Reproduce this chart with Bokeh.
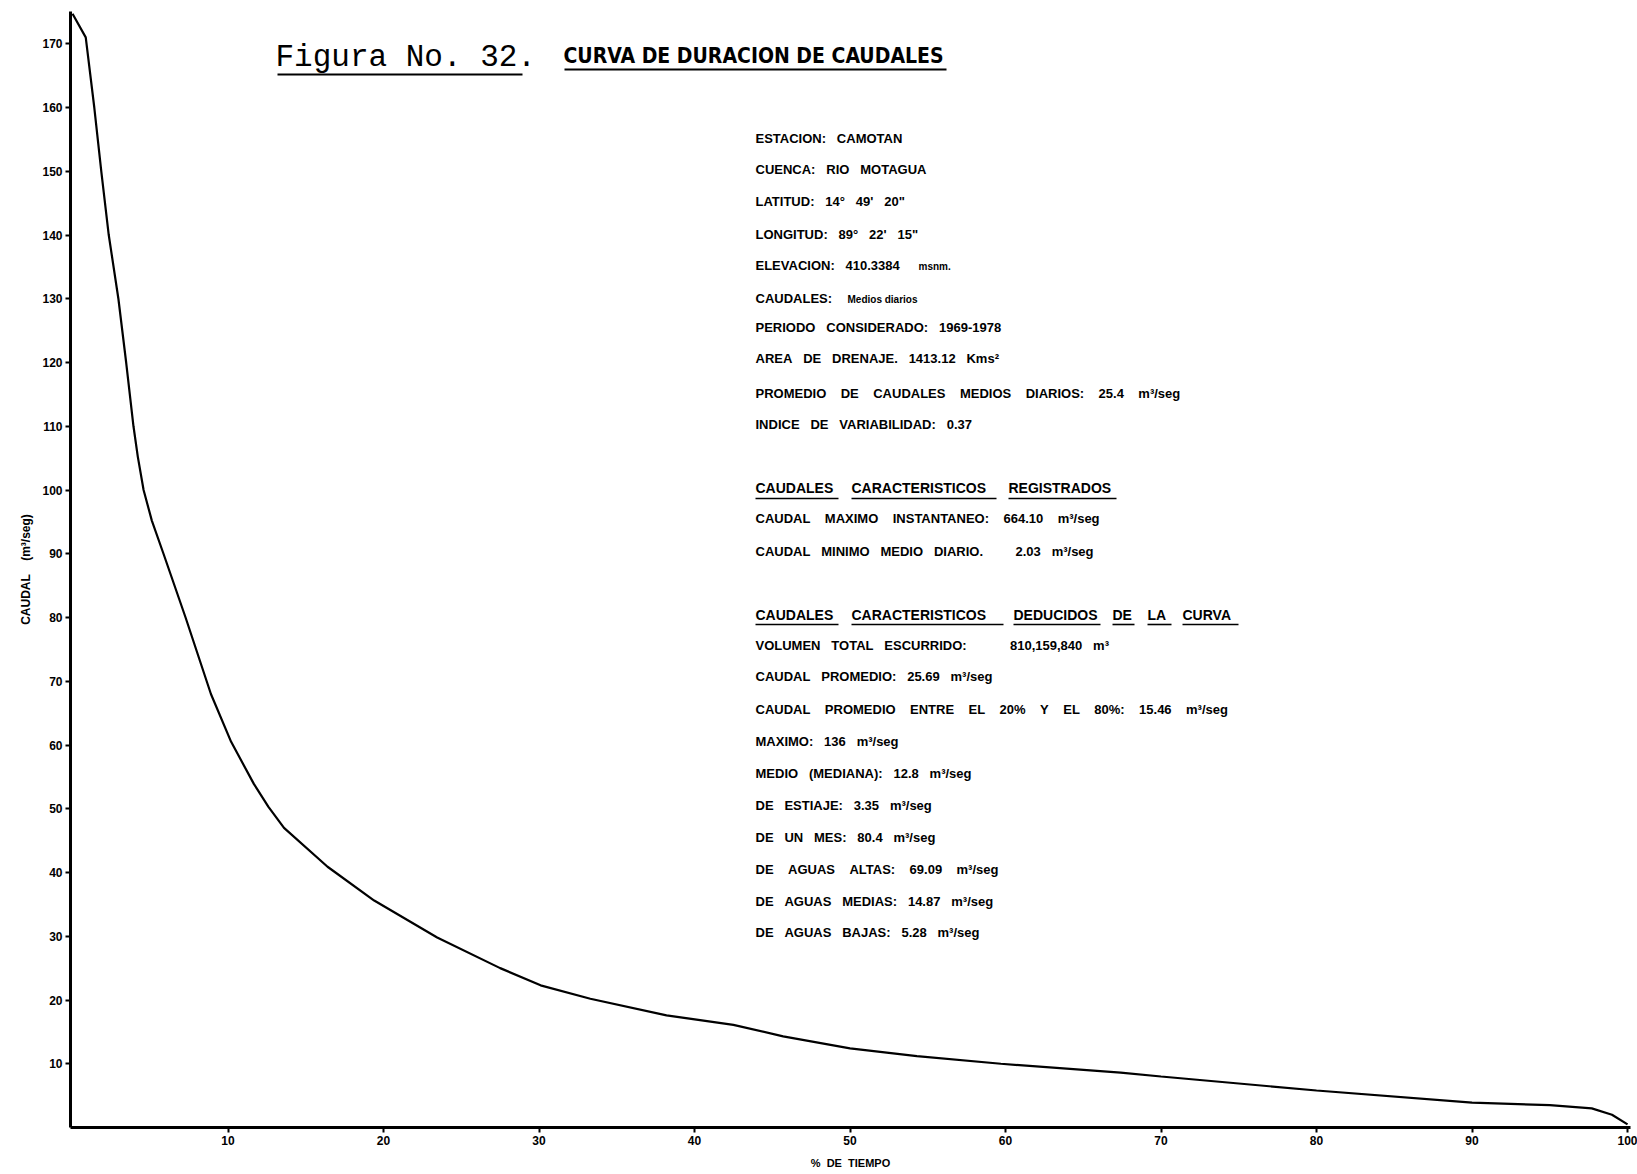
from bokeh.plotting import figure
from bokeh.models import Range1d, FixedTicker, Label
from bokeh.embed import file_html
from bokeh.resources import INLINE

# Curva de duración de caudales, estación Camotán
# porcentaje de tiempo en que el caudal es igualado o excedido
pct_tiempo = [0.0, 0.85, 1.4, 1.85, 2.33, 2.95, 3.45, 3.92, 4.2, 4.57, 5.1,
              5.85, 7.27, 8.9, 10.2, 11.66, 12.6, 13.6, 16.4, 19.4, 23.45, 27.5,
              30.1, 33.3, 38.2, 42.5, 45.7, 50.0, 54.3, 59.7, 67.4, 70.0, 80.0,
              90.0, 95.0, 97.7, 99.0, 100.0]
# caudal medio diario (m3/seg)
caudal = [174.7, 171.0, 160.0, 150.0, 140.0, 130.0, 120.0, 110.0, 105.2, 100.0,
          95.2, 90.0, 80.0, 68.0, 60.5, 53.9, 50.3, 47.0, 40.9, 35.6, 29.8, 25.0,
          22.3, 20.2, 17.6, 16.1, 14.3, 12.4, 11.2, 10.0, 8.6, 8.0, 5.8, 3.9,
          3.5, 3.0, 2.0, 0.5]

x_ticks = [10, 20, 30, 40, 50, 60, 70, 80, 90, 100]
y_ticks = [10, 20, 30, 40, 50, 60, 70, 80, 90, 100, 110, 120, 130, 140, 150,
           160, 170]

titulo_num = "Figura No. 32."
titulo_txt = "CURVA DE DURACION DE CAUDALES"

# (texto, ancho de separación entre palabras)
datos_estacion = [
    ("ESTACION: CAMOTAN", 3),
    ("CUENCA: RIO MOTAGUA", 3),
    ("LATITUD: 14° 49' 20\"", 3),
    ("LONGITUD: 89° 22' 15\"", 3),
    ("ELEVACION: 410.3384", 3),
    ("CAUDALES:", 3),
    ("PERIODO CONSIDERADO: 1969-1978", 3),
    ("AREA DE DRENAJE. 1413.12 Kms²", 3),
    ("PROMEDIO DE CAUDALES MEDIOS DIARIOS: 25.4 m³/seg", 4),
    ("INDICE DE VARIABILIDAD: 0.37", 3),
]
encabezado_1 = ["CAUDALES", "CARACTERISTICOS", "REGISTRADOS"]
registrados = [
    ("CAUDAL MAXIMO INSTANTANEO: 664.10 m³/seg", 4),
    ("CAUDAL MINIMO MEDIO DIARIO.   2.03 m³/seg", 3),
]
encabezado_2 = ["CAUDALES", "CARACTERISTICOS", "DEDUCIDOS", "DE", "LA", "CURVA"]
deducidos = [
    ("VOLUMEN TOTAL ESCURRIDO:    810,159,840 m³", 3),
    ("CAUDAL PROMEDIO: 25.69 m³/seg", 3),
    ("CAUDAL PROMEDIO ENTRE EL 20% Y EL 80%: 15.46 m³/seg", 4),
    ("MAXIMO: 136 m³/seg", 3),
    ("MEDIO (MEDIANA): 12.8 m³/seg", 3),
    ("DE ESTIAJE: 3.35 m³/seg", 3),
    ("DE UN MES: 80.4 m³/seg", 3),
    ("DE AGUAS ALTAS: 69.09 m³/seg", 4),
    ("DE AGUAS MEDIAS: 14.87 m³/seg", 3),
    ("DE AGUAS BAJAS: 5.28 m³/seg", 3),
]

# ---- page geometry (pixels) ----
W, H = 1637, 1174
LEFT, RIGHT, TOP, BOTTOM = 70, 7, 11, 47
X_START, X_END = -0.13, 100.19
Y_START, Y_END = 0.0, 175.06

frame_w = W - LEFT - RIGHT
frame_h = H - TOP - BOTTOM


def to_x(px):
    return X_START + (px - LEFT) * (X_END - X_START) / frame_w


def to_y(py):
    return Y_END - (py - TOP) * (Y_END - Y_START) / frame_h


def spaced(txt, n=3):
    # lettering with wide word gaps; non-breaking spaces survive in SVG text
    return txt.replace(" ", "\u00a0" * n)


p = figure(width=W, height=H, output_backend="svg", toolbar_location=None,
           x_range=Range1d(X_START, X_END), y_range=Range1d(Y_START, Y_END),
           min_border_left=LEFT, min_border_right=RIGHT,
           min_border_top=TOP, min_border_bottom=BOTTOM)
p.outline_line_color = None
p.grid.visible = False
p.background_fill_color = "white"
p.border_fill_color = "white"

p.line(pct_tiempo, caudal, line_color="black", line_width=2.2)

TICK_FONT = "Liberation Sans"
for ax, ticks in ((p.xaxis[0], x_ticks), (p.yaxis[0], y_ticks)):
    ax.ticker = FixedTicker(ticks=ticks)
    ax.axis_line_width = 3
    ax.axis_line_color = "black"
    ax.major_tick_line_width = 2
    ax.major_tick_line_color = "black"
    ax.major_tick_in = 0
    ax.major_tick_out = 5
    ax.minor_tick_line_color = None
    ax.major_label_text_font = TICK_FONT
    ax.major_label_text_font_style = "bold"
    ax.major_label_text_font_size = "12px"
    ax.major_label_text_color = "black"
    ax.major_label_standoff = 3
    ax.axis_label_text_font = TICK_FONT
    ax.axis_label_text_font_style = "bold"
    ax.axis_label_text_color = "black"

p.xaxis.axis_label = spaced("% DE TIEMPO", 2)
p.xaxis.axis_label_text_font_size = "11px"
p.xaxis.axis_label_standoff = 9
p.yaxis.axis_label = spaced("CAUDAL  (m³/seg)", 2)
p.yaxis.axis_label_text_font_size = "12px"
p.yaxis.axis_label_standoff = 6


def add_text(txt, px, py, size, font="Liberation Sans", style="bold"):
    p.add_layout(Label(x=to_x(px), y=to_y(py), text=txt, text_font=font,
                       text_font_style=style, text_font_size=f"{size}px",
                       text_color="black", text_baseline="middle",
                       text_align="left"))


def underline(px0, px1, py, width=2):
    p.segment(x0=[to_x(px0)], y0=[to_y(py)], x1=[to_x(px1)], y1=[to_y(py)],
              line_color="black", line_width=width)


# title
add_text(titulo_num, 275, 57, 31, font="Liberation Mono", style="normal")
underline(277, 522, 74, 2)
add_text(titulo_txt, 563, 55, 21,
         font="DejaVu Sans Condensed, Liberation Sans")
underline(564, 946, 69, 2)

# station data block
TX = 755
rows_1 = [138, 169, 201, 234, 265, 298, 327, 358, 393, 424]
for (txt, gap), py in zip(datos_estacion, rows_1):
    add_text(spaced(txt, gap), TX, py, 13)
add_text("msnm.", 918, 266, 10)
add_text("Medios diarios", 847, 299, 10)

# heading 1, each word underlined
h1_x = [(755, 838), (851, 996), (1008, 1116)]
for word, (a, b) in zip(encabezado_1, h1_x):
    add_text(word, a, 487, 14)
    underline(a, b, 498, 1.6)

for (txt, gap), py in zip(registrados, [518, 551]):
    add_text(spaced(txt, gap), TX, py, 13)

# heading 2, each word underlined
h2_x = [(755, 838), (851, 1003), (1013, 1100), (1112, 1134), (1147, 1171),
        (1182, 1238)]
for word, (a, b) in zip(encabezado_2, h2_x):
    add_text(word, a, 614, 14)
    underline(a, b, 624, 1.6)

rows_2 = [645, 676, 709, 741, 773, 805, 837, 869, 901, 932]
for (txt, gap), py in zip(deducidos, rows_2):
    add_text(spaced(txt, gap), TX, py, 13)

open("out.html", "w").write(file_html(p, INLINE))
